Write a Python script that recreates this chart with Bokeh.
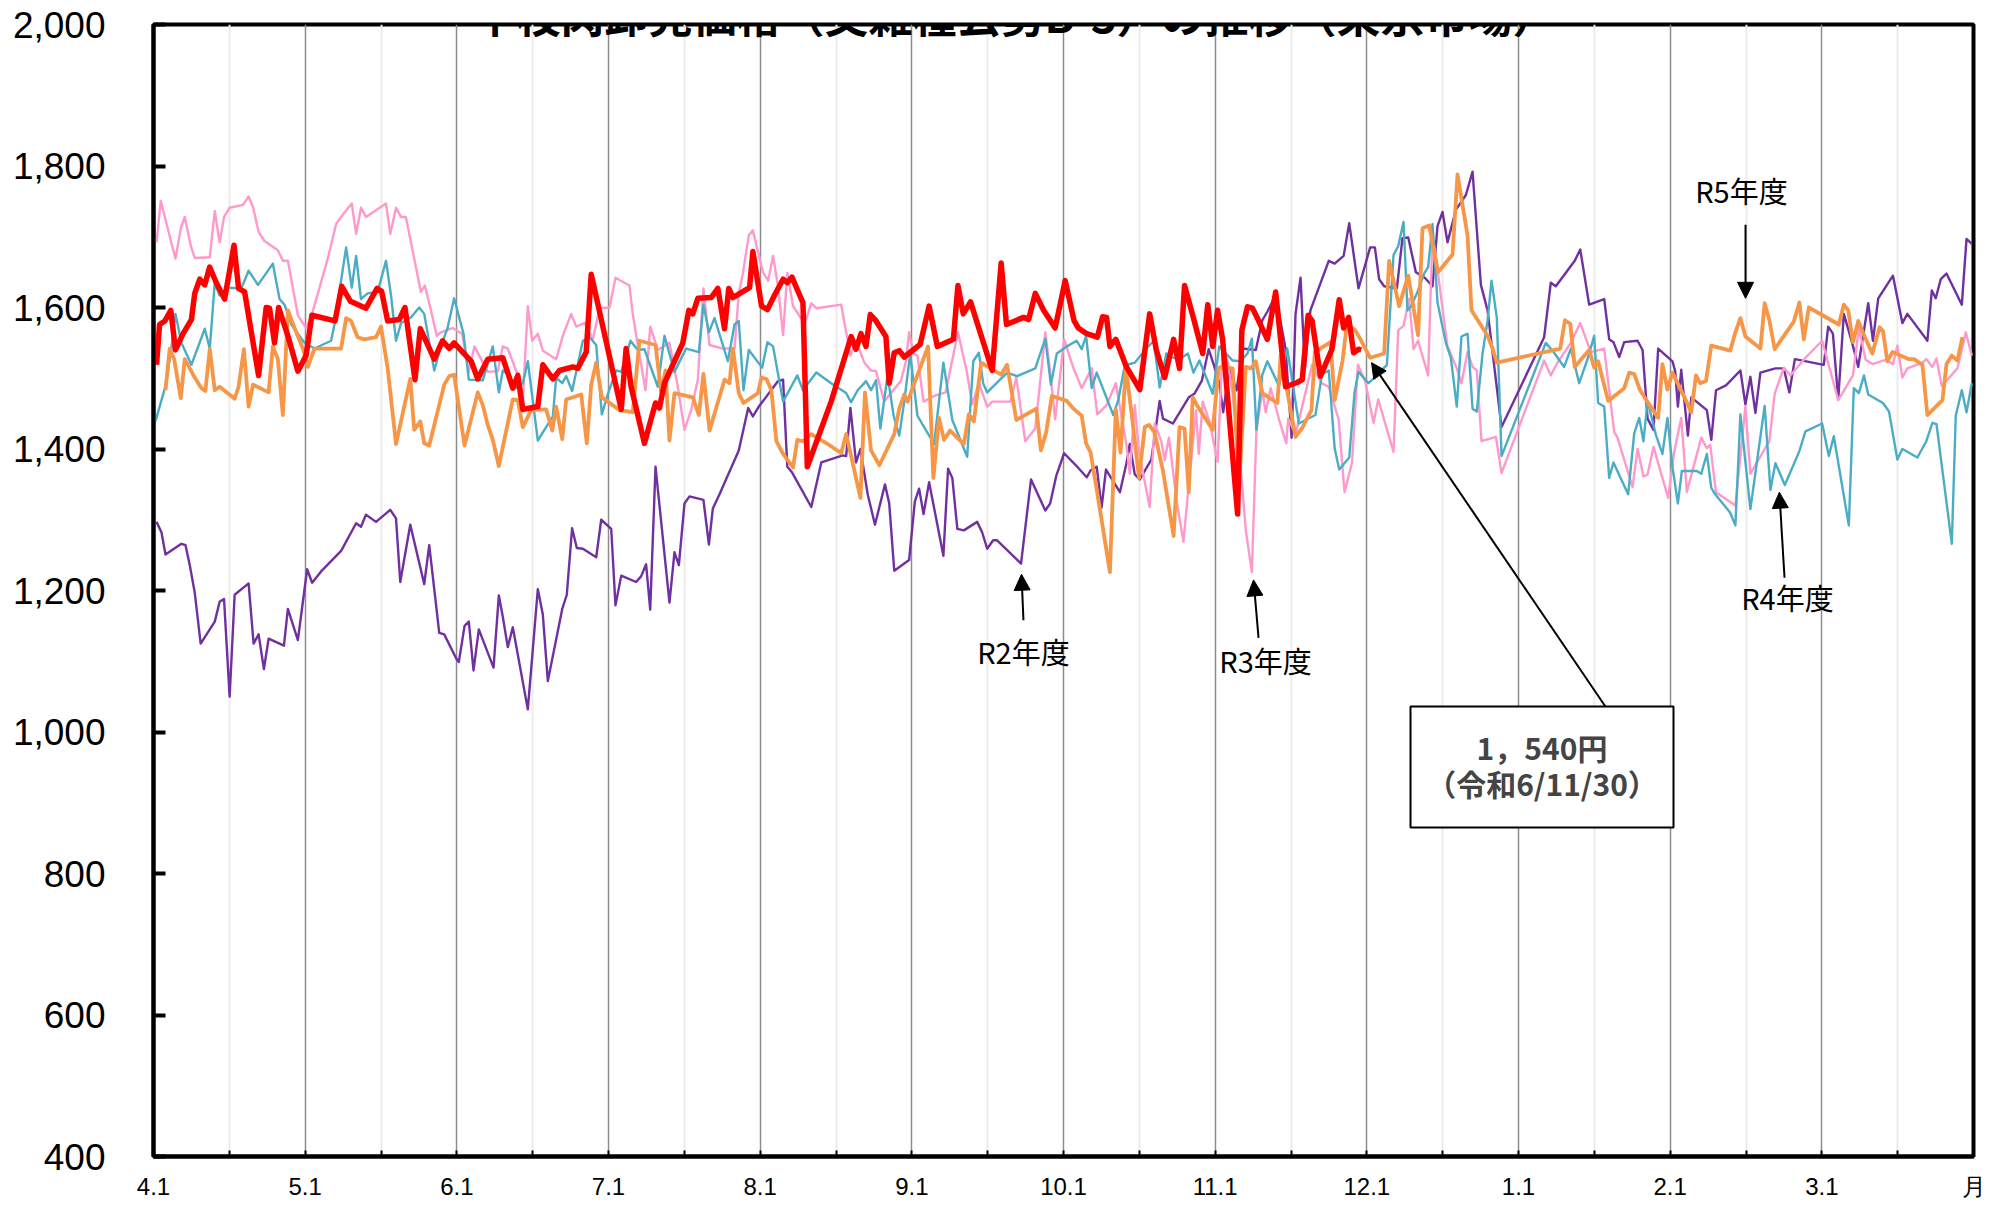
from bokeh.plotting import figure
from bokeh.models import (FixedTicker, Label, Arrow, NormalHead, BoxAnnotation,
                          Range1d, NumeralTickFormatter)
from bokeh.embed import file_html
from bokeh.resources import INLINE

# ---------------- data ----------------
TITLE = "牛枝肉卸売価格（交雑種去勢B-3）の推移（東京市場）"
MONTH_LABELS = ["4.1", "5.1", "6.1", "7.1", "8.1", "9.1", "10.1", "11.1", "12.1", "1.1", "2.1", "3.1", "月"]
Y_TICKS = [400, 600, 800, 1000, 1200, 1400, 1600, 1800, 2000]

# time in fiscal-month units (0 = 4/1, 12 = end of March)
R6_T = [0.02,0.04,0.075,0.114,0.145,0.195,0.25,0.272,0.305,0.338,0.37,0.414,0.469,0.531,0.561,0.601,0.645,0.693,0.743,0.765,0.798,0.825,0.886,0.952,1.006,1.044,1.197,1.241,1.298,1.401,1.474,1.504,1.544,1.621,1.658,1.724,1.759,1.851,1.906,1.95,1.982,
        2.095,2.138,2.204,2.303,2.369,2.402,2.435,2.534,2.567,2.633,2.677,2.765,2.798,2.853,2.886,3.084,3.116,3.149,3.237,3.31,3.336,3.369,3.49,3.53,3.556,3.589,3.677,3.721,3.765,3.793,3.82,3.93,3.952,
        4.009,4.048,4.096,4.151,4.179,4.21,4.245,4.282,4.311,4.381,4.468,4.6,4.632,4.665,4.698,4.726,4.764,4.829,4.851,4.884,4.917,4.95,5.015,5.055,5.114,5.168,5.274,5.304,5.339,5.387,5.53,5.589,5.624,5.737,5.77,5.814,5.869,5.945,6.011,
        6.07,6.098,6.153,6.223,6.258,6.284,6.306,6.345,6.415,6.503,6.568,6.612,6.667,6.726,6.765,6.798,6.852,6.918,6.951,6.984,7.016,7.049,7.148,7.176,7.213,7.246,7.285,7.344,7.399,7.464,7.541,7.574,7.613,7.639,7.694,7.77,7.818,7.847,7.88,7.913,7.945,7.963]
R6_V = [1519,1576,1581,1596,1540,1563,1583,1620,1640,1632,1657,1635,1612,1688,1627,1622,1565,1504,1600,1599,1550,1600,1560,1510,1532,1589,1581,1630,1609,1599,1627,1623,1581,1583,1600,1498,1570,1527,1553,1542,1550,
        1524,1499,1527,1529,1486,1504,1456,1460,1519,1499,1511,1516,1514,1537,1647,1456,1542,1488,1408,1465,1458,1493,1550,1596,1591,1613,1614,1627,1570,1627,1614,1628,1679,
        1602,1597,1618,1640,1635,1643,1625,1607,1375,1416,1467,1559,1541,1563,1545,1590,1581,1559,1493,1536,1539,1530,1541,1548,1602,1545,1555,1631,1591,1608,1511,1663,1576,1586,1583,1620,1596,1571,1638,
        1581,1571,1563,1558,1587,1586,1545,1555,1516,1484,1591,1540,1501,1555,1514,1631,1589,1535,1604,1545,1596,1555,1308,1568,1601,1599,1582,1555,1622,1488,1494,1498,1589,1581,1503,1541,1611,1571,1586,1536,1541,1540]

R5_T = [0.079,0.107,0.136,0.18,0.206,0.272,0.316,0.342,0.371,0.404,0.436,0.535,0.561,0.596,0.627,0.656,0.759,0.787,0.82,0.853,0.886,0.93,0.985,1.018,1.061,1.237,1.27,1.303,1.346,1.39,1.467,1.5,1.544,1.599,1.693,1.719,1.759,1.785,1.818,1.917,1.95,1.982,
        2.051,2.138,2.171,2.204,2.237,2.277,2.369,2.402,2.435,2.49,2.589,2.629,2.655,2.695,2.721,2.82,2.857,2.886,2.919,2.956,3.073,3.16,3.204,3.31,3.347,3.376,3.402,3.435,3.556,3.596,3.626,3.666,3.765,3.798,3.82,3.859,3.89,3.985,
        4.009,4.042,4.074,4.107,4.151,4.217,4.245,4.282,4.337,4.446,4.534,4.567,4.599,4.661,4.691,4.731,4.786,4.884,4.917,4.95,4.972,5.107,5.142,5.179,5.212,5.252,5.343,5.376,5.409,5.457,5.54,5.589,5.628,5.689,5.821,5.851,5.886,5.923,
        6.022,6.066,6.12,6.149,6.179,6.24,6.306,6.345,6.376,6.411,6.448,6.498,6.536,6.564,6.601,6.656,6.726,6.765,6.798,6.826,6.852,6.885,6.984,7.023,7.038,7.115,7.158,7.202,7.235,7.268,7.311,7.41,7.432,7.53,7.574,7.635,7.657,7.716,7.76,7.788,7.84,7.869,7.923,7.95,8.022,
        8.114,8.147,8.213,8.273,8.338,8.367,8.411,8.47,8.565,8.598,8.664,8.69,8.796,8.829,8.857,9.275,9.306,9.341,9.371,9.422,9.466,9.499,9.525,9.591,9.697,9.73,9.763,9.802,9.846,9.921,9.949,9.982,10.015,
        10.095,10.139,10.17,10.198,10.236,10.271,10.396,10.43,10.463,10.496,10.595,10.623,10.654,10.689,10.815,10.852,10.881,10.914,11.013,11.112,11.145,11.174,11.205,11.24,11.284,11.333,11.381,11.403,11.432,11.465,11.575,11.608,11.663,11.696,11.795,11.822,11.857,11.894,11.927]
R5_V = [1483,1542,1527,1472,1527,1501,1486,1482,1541,1483,1488,1471,1488,1541,1460,1491,1480,1545,1527,1448,1596,1571,1542,1516,1542,1542,1585,1581,1558,1555,1558,1573,1514,1407,1499,1427,1439,1408,1405,1491,1503,1505,
        1405,1480,1462,1434,1413,1376,1470,1469,1431,1455,1456,1426,1460,1414,1470,1477,1408,1491,1522,1473,1455,1452,1553,1547,1480,1511,1412,1479,1473,1448,1506,1426,1498,1493,1542,1479,1465,1479,
        1501,1499,1483,1411,1393,1374,1413,1411,1421,1407,1394,1421,1391,1331,1480,1398,1377,1421,1457,1477,1467,1545,1359,1444,1413,1426,1407,1449,1439,1522,1511,1505,1519,1441,1457,1398,1424,1475,
        1468,1457,1447,1408,1395,1315,1226,1456,1395,1515,1452,1359,1431,1434,1423,1369,1277,1431,1429,1339,1473,1460,1427,1514,1516,1514,1349,1516,1514,1524,1479,1465,1532,1417,1430,1455,1537,1545,1551,1469,1525,1577,1568,1558,1529,
        1535,1666,1602,1645,1561,1712,1716,1650,1675,1788,1702,1596,1560,1542,1522,1542,1582,1577,1516,1529,1540,1515,1524,1468,1486,1508,1506,1483,1468,1444,1520,1484,1508,
        1473,1452,1504,1493,1496,1546,1539,1565,1585,1559,1542,1606,1582,1541,1580,1607,1555,1600,1588,1576,1604,1596,1551,1581,1558,1535,1572,1567,1524,1537,1527,1527,1519,1448,1469,1520,1532,1525,1558]

R4_T = [0.013,0.075,0.114,0.145,0.184,0.25,0.338,0.371,0.404,0.436,0.491,0.579,0.627,0.689,0.787,0.831,0.864,0.908,0.996,1.061,1.171,1.193,1.27,1.307,1.336,1.368,1.412,1.478,1.533,1.566,1.599,1.632,1.697,1.752,1.785,1.851,1.895,1.939,1.982,
        2.044,2.079,2.171,2.237,2.277,2.303,2.336,2.391,2.435,2.468,2.534,2.633,2.655,2.695,2.721,2.76,2.831,2.875,2.919,2.956,2.996,3.051,3.084,3.145,3.193,3.237,3.325,3.369,3.435,3.512,3.596,3.626,3.662,3.699,3.787,3.831,3.859,3.89,3.925,4.013,
        4.048,4.085,4.151,4.245,4.282,4.37,4.468,4.567,4.599,4.643,4.698,4.731,4.764,4.792,4.84,4.88,4.917,4.95,4.989,5.037,5.147,5.208,5.267,5.365,5.405,5.442,5.47,5.497,5.628,5.694,5.814,5.88,5.917,5.956,
        6.022,6.087,6.12,6.149,6.186,6.219,6.328,6.361,6.404,6.47,6.546,6.595,6.634,6.678,6.726,6.765,6.82,6.857,6.896,6.984,7.027,7.115,7.169,7.213,7.242,7.272,7.311,7.344,7.421,7.475,7.552,7.661,7.705,7.749,7.788,7.818,7.884,7.919,7.945,8.011,
        8.066,8.132,8.176,8.207,8.242,8.268,8.29,8.334,8.378,8.404,8.433,8.466,8.521,8.554,8.593,8.624,8.664,8.697,8.725,8.763,8.796,8.822,8.857,8.888,9.18,9.231,9.301,9.345,9.4,9.455,9.499,9.525,9.565,9.598,9.626,9.723,9.763,9.796,9.824,9.851,9.906,9.949,9.982,10.015,
        10.051,10.077,10.176,10.205,10.242,10.271,10.297,10.396,10.43,10.463,10.529,10.623,10.661,10.694,10.756,10.852,10.892,11.002,11.046,11.079,11.178,11.211,11.244,11.278,11.306,11.403,11.443,11.498,11.531,11.63,11.689,11.729,11.756,11.857,11.883,11.923,11.954,11.989]
R4_V = [1439,1486,1535,1591,1550,1519,1570,1542,1635,1617,1628,1627,1652,1632,1662,1612,1604,1576,1550,1542,1553,1576,1685,1628,1673,1612,1620,1622,1666,1617,1553,1578,1586,1600,1591,1511,1545,1571,1613,
        1563,1498,1497,1545,1480,1511,1506,1486,1493,1524,1412,1446,1501,1493,1503,1482,1553,1558,1547,1449,1478,1511,1509,1553,1540,1541,1488,1560,1509,1542,1537,1604,1565,1585,1524,1576,1581,1483,1540,1515,
        1551,1545,1467,1504,1483,1508,1493,1479,1466,1483,1496,1483,1497,1429,1504,1447,1419,1467,1535,1447,1407,1522,1441,1389,1524,1536,1493,1480,1508,1503,1514,1556,1491,1535,
        1545,1553,1541,1560,1486,1508,1448,1469,1518,1522,1542,1553,1487,1535,1529,1527,1535,1508,1525,1478,1545,1525,1524,1535,1556,1427,1505,1524,1489,1542,1436,1448,1506,1511,1401,1371,1388,1480,1509,1493,
        1504,1519,1674,1687,1721,1596,1601,1622,1648,1657,1718,1607,1550,1529,1460,1559,1563,1457,1453,1535,1581,1638,1586,1390,1550,1537,1516,1542,1493,1527,1560,1465,1460,1359,1381,1336,1422,1444,1411,1468,1420,1393,1444,1375,
        1323,1369,1369,1365,1393,1345,1336,1310,1292,1449,1315,1461,1342,1380,1349,1397,1425,1436,1390,1418,1292,1486,1479,1504,1477,1465,1453,1385,1400,1388,1411,1437,1435,1266,1447,1483,1452,1493]

R3_T = [0.02,0.048,0.096,0.145,0.18,0.206,0.246,0.272,0.371,0.404,0.436,0.465,0.502,0.59,0.627,0.656,0.693,0.732,0.82,0.853,0.886,0.952,1.006,1.039,1.149,1.204,1.248,1.307,1.336,1.368,1.401,1.533,1.561,1.599,1.632,1.664,1.763,1.789,1.829,1.868,1.895,1.971,
        2.035,2.079,2.116,2.16,2.204,2.27,2.303,2.336,2.402,2.435,2.468,2.497,2.534,2.567,2.655,2.699,2.754,2.787,2.842,2.897,2.941,3.007,3.046,3.138,3.16,3.187,3.244,3.275,3.325,3.402,3.457,3.501,3.545,3.589,3.626,3.666,3.754,3.831,3.859,3.886,3.925,3.952,4.018,
        4.053,4.085,4.118,4.151,4.179,4.217,4.293,4.337,4.37,4.534,4.595,4.632,4.687,4.731,4.764,4.818,4.862,4.928,4.961,4.982,5.011,5.037,5.077,5.147,5.223,5.304,5.361,5.398,5.442,5.497,5.53,5.65,5.689,5.748,5.814,5.88,5.912,5.945,6.004,
        6.066,6.12,6.186,6.223,6.284,6.345,6.415,6.437,6.47,6.498,6.568,6.601,6.645,6.667,6.695,6.748,6.791,6.83,6.874,6.892,6.918,6.962,7.016,7.049,7.082,7.115,7.158,7.202,7.242,7.272,7.311,7.333,7.366,7.421,7.469,7.482,7.53,7.596,7.639,7.7,7.749,7.814,7.853,7.902,7.941,7.989,8.044,
        8.075,8.176,8.207,8.242,8.279,8.308,8.338,8.404,8.433,8.466,8.532,8.593,8.624,8.664,8.697,8.725,8.756,8.851,8.888,9.169,9.213,9.257,9.345,9.407,9.477,9.565,9.631,9.653,9.752,9.785,9.824,9.851,9.89,9.987,10.026,
        10.073,10.11,10.205,10.242,10.264,10.302,10.43,10.496,10.529,10.654,10.689,10.749,10.793,10.892,11.002,11.108,11.205,11.244,11.289,11.333,11.421,11.469,11.498,11.531,11.564,11.663,11.689,11.729,11.756,11.791,11.894,11.949,11.989]
R3_V = [1692,1751,1710,1669,1712,1728,1687,1670,1671,1736,1692,1728,1741,1745,1757,1742,1707,1694,1681,1666,1666,1589,1571,1586,1669,1718,1731,1747,1704,1741,1728,1747,1704,1741,1728,1728,1622,1631,1596,1560,1565,1571,
        1563,1509,1545,1527,1509,1510,1545,1542,1504,1468,1602,1553,1563,1539,1527,1560,1591,1573,1578,1555,1599,1600,1642,1631,1591,1555,1483,1573,1540,1550,1488,1427,1455,1498,1627,1547,1542,1542,1620,1648,1702,1709,1650,
        1638,1673,1630,1561,1649,1602,1577,1606,1599,1604,1532,1553,1522,1511,1510,1467,1479,1496,1524,1565,1535,1532,1467,1475,1480,1565,1511,1463,1493,1460,1467,1467,1501,1411,1429,1565,1509,1442,1555,
        1514,1486,1514,1449,1462,1493,1406,1365,1462,1395,1318,1436,1411,1384,1416,1324,1269,1359,1455,1393,1467,1439,1382,1542,1524,1478,1400,1285,1226,1426,1483,1452,1486,1442,1408,1443,1421,1480,1519,1493,1488,1442,1339,1380,1519,1496,1437,
        1470,1396,1568,1574,1612,1541,1553,1504,1705,1653,1545,1514,1493,1537,1516,1511,1411,1417,1366,1525,1504,1522,1550,1578,1537,1542,1424,1416,1346,1400,1361,1364,1403,1331,1395,
        1444,1339,1416,1401,1406,1339,1320,1460,1365,1411,1478,1515,1504,1529,1553,1469,1504,1571,1526,1520,1526,1520,1546,1501,1514,1522,1527,1516,1528,1489,1514,1565,1532]

R2_T = [0.02,0.053,0.079,0.184,0.211,0.239,0.272,0.311,0.404,0.436,0.465,0.502,0.535,0.627,0.66,0.693,0.728,0.759,0.86,0.886,0.952,1.013,1.046,1.105,1.237,1.336,1.368,1.401,1.467,1.561,1.599,1.627,1.693,1.785,1.818,1.884,1.917,
        1.996,2.013,2.051,2.079,2.11,2.145,2.242,2.277,2.303,2.336,2.369,2.468,2.534,2.567,2.6,2.695,2.725,2.76,2.791,2.831,2.919,2.952,3.018,3.046,3.084,3.182,3.215,3.248,3.275,3.31,3.402,3.435,3.464,3.501,3.534,3.626,3.662,3.688,3.732,3.859,3.921,3.952,3.991,
        4.009,4.118,4.151,4.179,4.21,4.337,4.403,4.545,4.567,4.595,4.632,4.661,4.709,4.757,4.823,4.851,4.884,4.982,5.02,5.048,5.077,5.114,5.208,5.239,5.267,5.3,5.343,5.431,5.464,5.497,5.536,5.562,5.72,5.786,5.88,5.912,5.952,6.004,
        6.077,6.153,6.179,6.219,6.251,6.28,6.372,6.415,6.437,6.47,6.503,6.579,6.634,6.656,6.721,6.826,6.863,6.913,6.957,6.995,7.027,7.053,7.093,7.141,7.18,7.224,7.268,7.311,7.344,7.399,7.464,7.504,7.53,7.563,7.591,7.628,7.749,7.788,7.847,7.884,7.945,8.022,
        8.053,8.081,8.114,8.198,8.235,8.273,8.323,8.382,8.433,8.466,8.499,8.532,8.587,8.653,8.697,8.752,8.796,8.888,9.169,9.213,9.246,9.371,9.407,9.466,9.565,9.598,9.626,9.664,9.697,9.785,9.818,9.851,9.89,9.921,10.015,
        10.033,10.051,10.073,10.117,10.139,10.242,10.271,10.302,10.368,10.463,10.496,10.529,10.562,10.595,10.694,10.749,10.786,10.822,11.013,11.042,11.073,11.108,11.145,11.2,11.24,11.306,11.337,11.372,11.469,11.531,11.564,11.696,11.725,11.751,11.784,11.822,11.923,11.954,11.989]
R2_V = [1297,1282,1251,1266,1264,1236,1197,1125,1156,1184,1188,1050,1194,1210,1125,1138,1089,1132,1122,1174,1130,1230,1211,1227,1256,1295,1290,1307,1297,1314,1302,1212,1293,1209,1264,1140,1138,
        1104,1099,1150,1156,1087,1145,1091,1193,1163,1120,1148,1032,1202,1166,1072,1174,1194,1288,1260,1259,1247,1300,1287,1179,1221,1212,1220,1237,1173,1375,1183,1254,1236,1323,1333,1328,1265,1316,1336,1398,1458,1446,1460,
        1465,1496,1498,1375,1367,1318,1381,1391,1390,1458,1381,1400,1336,1293,1350,1323,1228,1243,1326,1344,1308,1353,1249,1372,1359,1287,1285,1297,1282,1259,1271,1271,1238,1357,1313,1323,1362,1394,
        1378,1360,1370,1375,1317,1371,1339,1380,1407,1364,1357,1385,1468,1443,1436,1473,1478,1497,1541,1516,1493,1452,1514,1483,1542,1541,1540,1582,1594,1617,1542,1416,1591,1642,1514,1596,1666,1662,1673,1719,1627,1685,
        1685,1640,1630,1627,1698,1699,1650,1642,1630,1715,1735,1692,1738,1759,1792,1632,1596,1431,1558,1635,1630,1666,1682,1604,1612,1555,1551,1530,1551,1553,1540,1443,1427,1542,1524,
        1510,1460,1512,1419,1473,1455,1413,1483,1490,1511,1463,1502,1451,1508,1514,1514,1480,1527,1519,1573,1563,1470,1591,1550,1516,1606,1553,1613,1645,1578,1591,1553,1624,1613,1640,1648,1604,1697,1690]

# ---------------- figure ----------------
NUM_FONT = "Liberation Sans"
JP_FONT = "Noto Sans CJK JP"

p = figure(width=2010, height=1202, output_backend="svg", toolbar_location=None,
           x_range=Range1d(0, 12), y_range=Range1d(400, 2000),
           min_border_left=153, min_border_right=37, min_border_top=24, min_border_bottom=45,
           background_fill_color="white", border_fill_color="white")

p.outline_line_color = "black"
p.outline_line_width = 4

xt = FixedTicker(ticks=list(range(13)), minor_ticks=[i + 0.5 for i in range(12)])
p.xaxis.ticker = xt
p.xaxis.major_label_overrides = {i: lab for i, lab in enumerate(MONTH_LABELS)}
p.xaxis.axis_line_width = 4
p.xaxis.axis_line_color = "black"
p.xaxis.major_tick_in = 6
p.xaxis.major_tick_out = 0
p.xaxis.minor_tick_in = 6
p.xaxis.minor_tick_out = 0
p.xaxis.major_tick_line_width = 2
p.xaxis.minor_tick_line_width = 2
p.xaxis.major_label_standoff = 16
p.xaxis.major_label_text_font = NUM_FONT
p.xaxis.major_label_text_font_size = "24px"
p.xaxis.major_label_text_color = "black"

p.yaxis.ticker = FixedTicker(ticks=Y_TICKS)
p.yaxis.formatter = NumeralTickFormatter(format="0,0")
p.yaxis.axis_line_width = 4
p.yaxis.axis_line_color = "black"
p.yaxis.major_tick_in = 12
p.yaxis.major_tick_out = 0
p.yaxis.major_tick_line_width = 4
p.yaxis.minor_tick_line_color = None
p.yaxis.major_label_standoff = 48
p.yaxis.major_label_text_font = NUM_FONT
p.yaxis.major_label_text_font_size = "37px"
p.yaxis.major_label_text_color = "black"

p.xgrid.grid_line_color = "#8C8C8C"
p.xgrid.grid_line_width = 1.5
p.xgrid.minor_grid_line_color = "#EBEBEB"
p.xgrid.minor_grid_line_width = 2
p.ygrid.visible = False

# ---------------- series ----------------
p.line(R2_T, R2_V, line_color="#7030A0", line_width=2.4, line_join="round")
p.line(R3_T, R3_V, line_color="#FF99CC", line_width=2.4, line_join="round")
p.line(R4_T, R4_V, line_color="#4BACC6", line_width=2.4, line_join="round")
p.line(R5_T, R5_V, line_color="#F79646", line_width=3.8, line_join="round")
p.line(R6_T, R6_V, line_color="#FF0000", line_width=5.5, line_join="round")

# ---------------- annotations ----------------
p.add_layout(Label(x=5.677, y=2015, text=TITLE, text_font=JP_FONT, text_font_size="44px",
                   text_font_style="bold", text_align="center", text_baseline="alphabetic",
                   text_color="black"))

def note(text, x, y, x0, y0, x1, y1):
    p.add_layout(Label(x=x, y=y, text=text, text_font=JP_FONT, text_font_size="29px",
                       text_align="center", text_baseline="middle", text_color="black"))
    p.add_layout(Arrow(end=NormalHead(size=16, fill_color="black", line_color="black"),
                       x_start=x0, y_start=y0, x_end=x1, y_end=y1,
                       line_color="black", line_width=2))

note("R2年度", 5.736, 1115, 5.736, 1158, 5.723, 1223)
note("R3年度", 7.332, 1102, 7.286, 1133, 7.253, 1215)
note("R4年度", 10.773, 1191, 10.754, 1218, 10.72, 1339)
note("R5年度", 10.47, 1766, 10.497, 1717, 10.497, 1613)

p.add_layout(BoxAnnotation(left=8.288, right=10.022, bottom=865, top=1036,
                           fill_color="white", fill_alpha=1.0,
                           line_color="black", line_width=2, line_alpha=1.0))
p.add_layout(Arrow(end=NormalHead(size=15, fill_color="black", line_color="black"),
                   x_start=9.573, y_start=1036, x_end=8.031, y_end=1522,
                   line_color="black", line_width=2))
p.add_layout(Label(x=9.155, y=979, text="1，540円", text_font=JP_FONT, text_font_size="30px",
                   text_font_style="bold", text_align="center", text_baseline="middle"))
p.add_layout(Label(x=9.155, y=928, text="（令和6/11/30）", text_font=JP_FONT, text_font_size="30px",
                   text_font_style="bold", text_align="center", text_baseline="middle"))

open("out.html", "w").write(file_html(p, INLINE))
